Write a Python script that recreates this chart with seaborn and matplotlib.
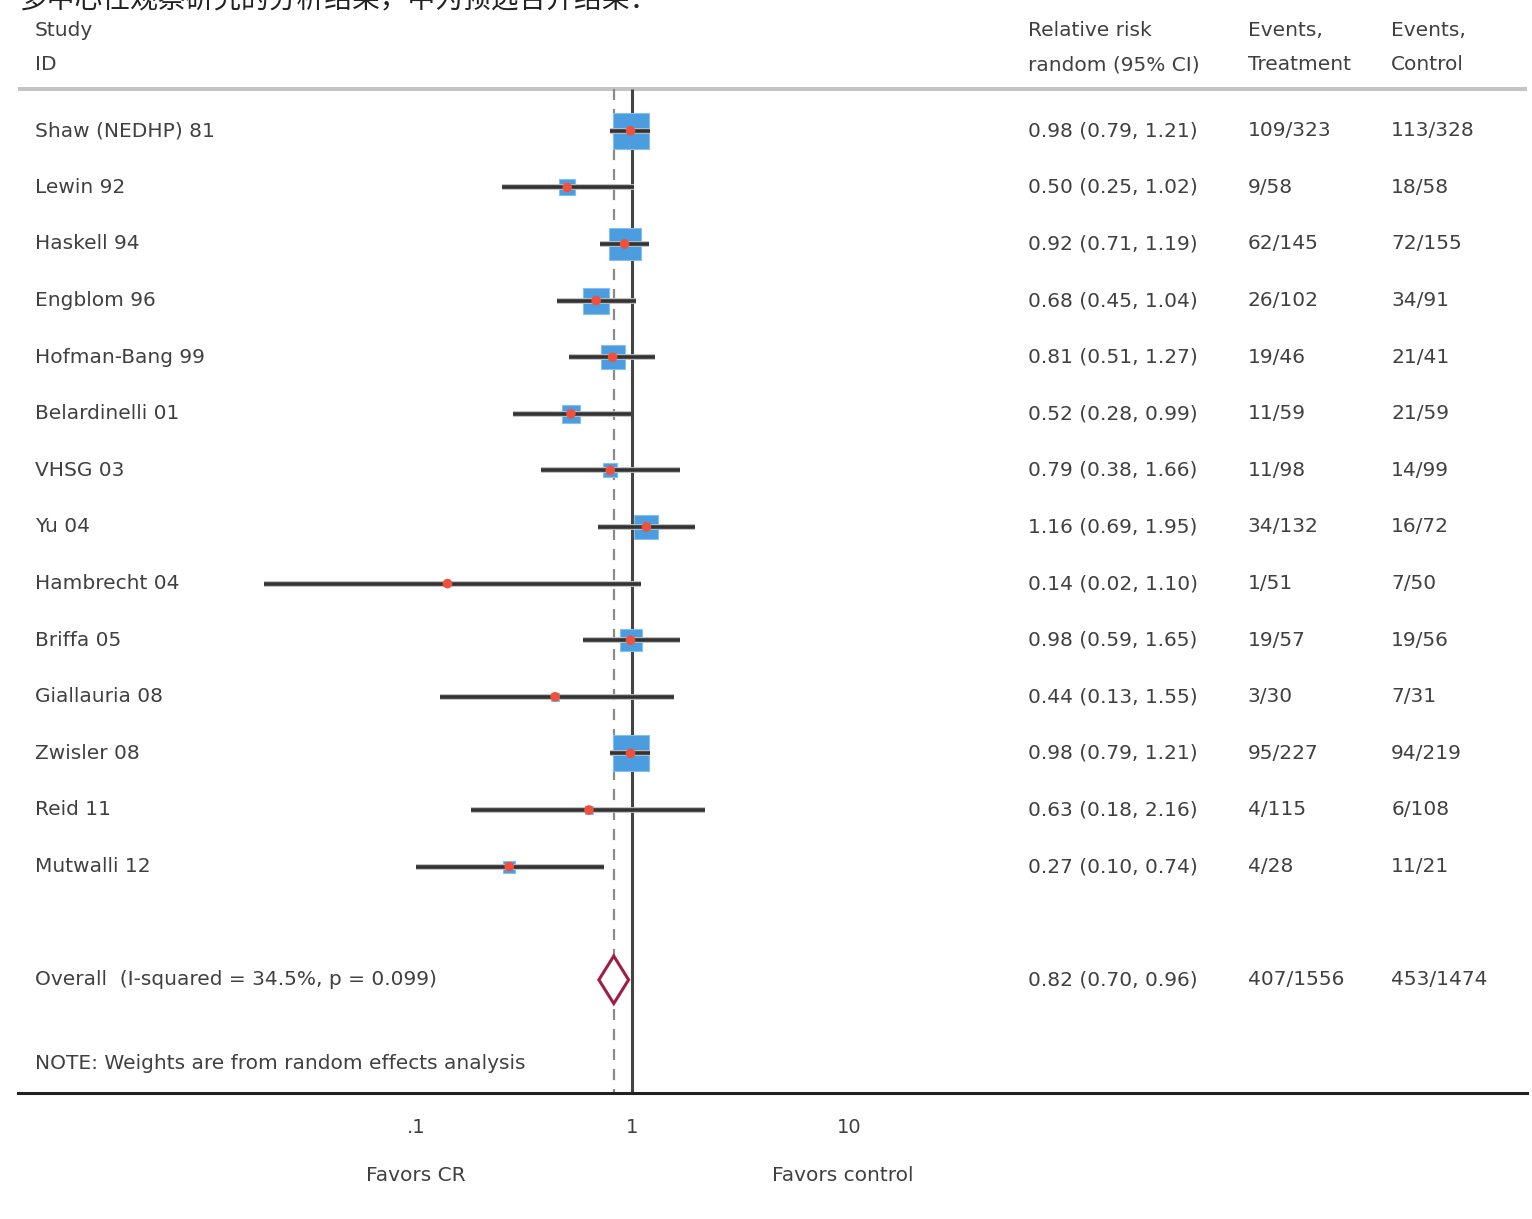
import numpy as np
import pandas as pd
import matplotlib
matplotlib.use("Agg")
import matplotlib.pyplot as plt
import seaborn as sns
from matplotlib.patches import Polygon

# data
studies = ["Shaw (NEDHP) 81", "Lewin 92", "Haskell 94", "Engblom 96", "Hofman-Bang 99",
           "Belardinelli 01", "VHSG 03", "Yu 04", "Hambrecht 04", "Briffa 05",
           "Giallauria 08", "Zwisler 08", "Reid 11", "Mutwalli 12"]
rr = [0.98, 0.50, 0.92, 0.68, 0.81, 0.52, 0.79, 1.16, 0.14, 0.98, 0.44, 0.98, 0.63, 0.27]
ci_lo = [0.79, 0.25, 0.71, 0.45, 0.51, 0.28, 0.38, 0.69, 0.02, 0.59, 0.13, 0.79, 0.18, 0.10]
ci_hi = [1.21, 1.02, 1.19, 1.04, 1.27, 0.99, 1.66, 1.95, 1.10, 1.65, 1.55, 1.21, 2.16, 0.74]
events_trt = ["109/323", "9/58", "62/145", "26/102", "19/46", "11/59", "11/98", "34/132",
              "1/51", "19/57", "3/30", "95/227", "4/115", "4/28"]
events_ctl = ["113/328", "18/58", "72/155", "34/91", "21/41", "21/59", "14/99", "16/72",
              "7/50", "19/56", "7/31", "94/219", "6/108", "11/21"]
weights = [16.4, 3.3, 13.0, 8.5, 7.3, 4.1, 2.5, 7.3, 0.4, 6.1, 0.9, 16.4, 0.8, 1.8]

overall_rr, overall_lo, overall_hi = 0.82, 0.70, 0.96
overall_label = "Overall  (I-squared = 34.5%, p = 0.099)"
overall_trt, overall_ctl = "407/1556", "453/1474"
note = "NOTE: Weights are from random effects analysis"
title_cn = "多中心性观察研究的分析结果，中为预选合并结果："

df = pd.DataFrame({"study": studies, "rr": rr, "lo": ci_lo, "hi": ci_hi,
                   "w": weights, "row": np.arange(len(studies))})
df["box"] = (8.9 * np.sqrt(df["w"]) * 0.72) ** 2

sns.set_style("white")
plt.rcParams["font.family"] = ["DejaVu Sans"]
txt = "#404040"

fig = plt.figure(figsize=(15.32, 12.19), dpi=100)
ax = fig.add_axes([0.01175, 0.10336, 0.98499, 0.89664])
ax.set_xscale("log")
ax.set_xlim(10 ** -2.8366, 10 ** 4.130)
ax.set_ylim(17.0, -2.31)

overall_row = len(studies) + 1
note_row = overall_row + 1.47
rule_row = -0.74

# reference lines
ax.axhline(rule_row, color="#c4c4c4", lw=2.9, zorder=1)
ax.vlines(1, rule_row, 17.0, color="#444444", lw=2.2, zorder=1)
ax.vlines(overall_rr, rule_row, 17.0, color="#8a8a8a", lw=1.6,
          linestyles=(0, (5, 4)), zorder=1)

# weight boxes
sns.scatterplot(data=df, x="rr", y="row", s=df["box"].values, marker="s",
                color="#4b9ddf", edgecolor="#86c0ee", linewidth=0.8,
                ax=ax, zorder=2, legend=False)
# confidence intervals
ax.hlines(df["row"], df["lo"], df["hi"], color="#bdbdbd", lw=4.2, zorder=3)
ax.hlines(df["row"], df["lo"], df["hi"], color="#333333", lw=2.6, zorder=3)
# point estimates
sns.scatterplot(data=df, x="rr", y="row", s=48, marker="o", color="#f0503c",
                edgecolor="none", ax=ax, zorder=4, legend=False)

# overall diamond
h = 0.42
diamond = Polygon([(overall_lo, overall_row), (overall_rr, overall_row - h),
                   (overall_hi, overall_row), (overall_rr, overall_row + h)],
                  closed=True, facecolor="white", edgecolor="#a01e46", lw=2.2, zorder=5)
ax.add_patch(diamond)

# text columns
tr = ax.get_yaxis_transform()
fs = 14.5
col_study, col_rr, col_trt, col_ctl = 0.0113, 0.669, 0.815, 0.910
for x, top, bottom in [(col_study, "Study", "ID"),
                       (col_rr, "Relative risk", "random (95% CI)"),
                       (col_trt, "Events,", "Treatment"),
                       (col_ctl, "Events,", "Control")]:
    ax.text(x, -1.77, top, transform=tr, fontsize=fs, color=txt, va="center")
    ax.text(x, -1.17, bottom, transform=tr, fontsize=fs, color=txt, va="center")

for i, r in df.iterrows():
    ax.text(col_study, r["row"], r["study"], transform=tr, fontsize=fs, color=txt, va="center")
    ax.text(col_rr, r["row"], f"{r['rr']:.2f} ({r['lo']:.2f}, {r['hi']:.2f})",
            transform=tr, fontsize=fs, color=txt, va="center")
    ax.text(col_trt, r["row"], events_trt[i], transform=tr, fontsize=fs, color=txt, va="center")
    ax.text(col_ctl, r["row"], events_ctl[i], transform=tr, fontsize=fs, color=txt, va="center")

ax.text(col_study, overall_row, overall_label, transform=tr, fontsize=fs, color=txt, va="center")
ax.text(col_rr, overall_row, f"{overall_rr:.2f} ({overall_lo:.2f}, {overall_hi:.2f})",
        transform=tr, fontsize=fs, color=txt, va="center")
ax.text(col_trt, overall_row, overall_trt, transform=tr, fontsize=fs, color=txt, va="center")
ax.text(col_ctl, overall_row, overall_ctl, transform=tr, fontsize=fs, color=txt, va="center")
ax.text(col_study, note_row, note, transform=tr, fontsize=fs, color=txt, va="center")

# axis styling
for side in ["left", "right", "top"]:
    ax.spines[side].set_visible(False)
ax.spines["bottom"].set_color("#222222")
ax.spines["bottom"].set_linewidth(2.2)
ax.set_yticks([])
ax.set_xticks([0.1, 1, 10])
ax.set_xticklabels([".1", "1", "10"])
ax.xaxis.set_minor_locator(matplotlib.ticker.NullLocator())
ax.tick_params(axis="x", length=12, width=2, color="#222222", pad=6,
               labelsize=14, labelcolor=txt)
ax.set_xlabel("")
ax.set_ylabel("")

ax.text(0.1, 18.45, "Favors CR", fontsize=fs, color=txt, ha="center", va="center", clip_on=False)
ax.text(9.4, 18.45, "Favors control", fontsize=fs, color=txt, ha="center", va="center", clip_on=False)

fig.text(0.013, 1.0, title_cn, fontsize=20, color="#222222", va="center",
         family=["Noto Sans CJK SC", "DejaVu Sans"])

fig.savefig("out.png", dpi=100)
